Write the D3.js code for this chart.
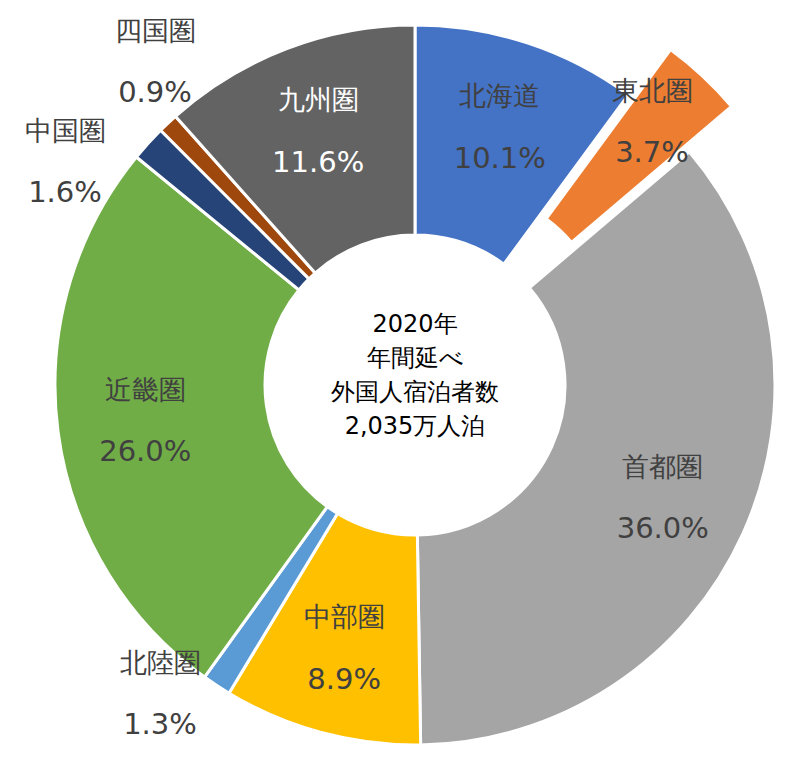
<!DOCTYPE html>
<html><head><meta charset="utf-8">
<script src="https://cdn.jsdelivr.net/npm/d3@7"></script>
<style>body{margin:0;background:#fff}text{font-family:"DejaVu Sans",Verdana,sans-serif}</style>
</head><body><svg id="c" width="800" height="763"></svg>
<script>
var regions = ["北海道","東北圏","首都圏","中部圏","北陸圏","近畿圏","中国圏","四国圏","九州圏"];
var shares = [10.1, 3.7, 36.0, 8.9, 1.3, 26.0, 1.6, 0.9, 11.6];
var colors = ["#4472C4","#ED7D31","#A5A5A5","#FFC000","#5B9BD5","#70AD47","#264478","#9E480E","#636363"];
var centerLines = ["2020年","年間延べ","外国人宿泊者数","2,035万人泊"];
// outside label anchors (name line), others sit on the slice centroid
var outside = {"東北圏":[652,90],"北陸圏":[160,662],"中国圏":[65,130],"四国圏":[155,30]};

var cx = 415, cy = 385, R = 360, r0 = 150;
var svg = d3.select("#c");
var g = svg.append("g").attr("transform","translate("+cx+","+cy+")");
var data = regions.map(function(d,i){return {name:d, v:shares[i], c:colors[i]};});
var pie = d3.pie().sort(null).value(function(d){return d.v;});
var arc = d3.arc().innerRadius(r0).outerRadius(R);
var labelArc = d3.arc().innerRadius(272).outerRadius(272);
var arcs = pie(data);

g.selectAll("path").data(arcs).enter().append("path")
  .attr("d", arc)
  .attr("fill", function(d){return d.data.c;})
  .attr("stroke","#fff").attr("stroke-width",3)
  .attr("transform", function(d){
    if (d.data.name !== "東北圏") return null;
    var a = (d.startAngle+d.endAngle)/2;
    return "translate("+(Math.sin(a)*62)+","+(-Math.cos(a)*62)+")";
  });

arcs.forEach(function(d){
  var p, o = outside[d.data.name];
  if (o) p = [o[0], o[1]+31];
  else { var c = labelArc.centroid(d); p = [c[0]+cx, c[1]+cy]; }
  var col = d.data.name === "九州圏" ? "#fff" : "#404040";
  svg.append("text").attr("x",p[0]).attr("y",p[1]-31).attr("text-anchor","middle")
    .attr("dominant-baseline","central").attr("font-size",27).attr("fill",col).text(d.data.name);
  svg.append("text").attr("x",p[0]).attr("y",p[1]+31).attr("text-anchor","middle")
    .attr("dominant-baseline","central").attr("font-size",29).attr("fill",col).text(d.data.v.toFixed(1)+"%");
});

svg.selectAll(".ct").data(centerLines).enter().append("text")
  .attr("x",cx).attr("y",function(d,i){return 324+i*34;})
  .attr("text-anchor","middle").attr("dominant-baseline","central")
  .attr("font-size",24).attr("fill","#000").text(function(d){return d;});
</script></body></html>
